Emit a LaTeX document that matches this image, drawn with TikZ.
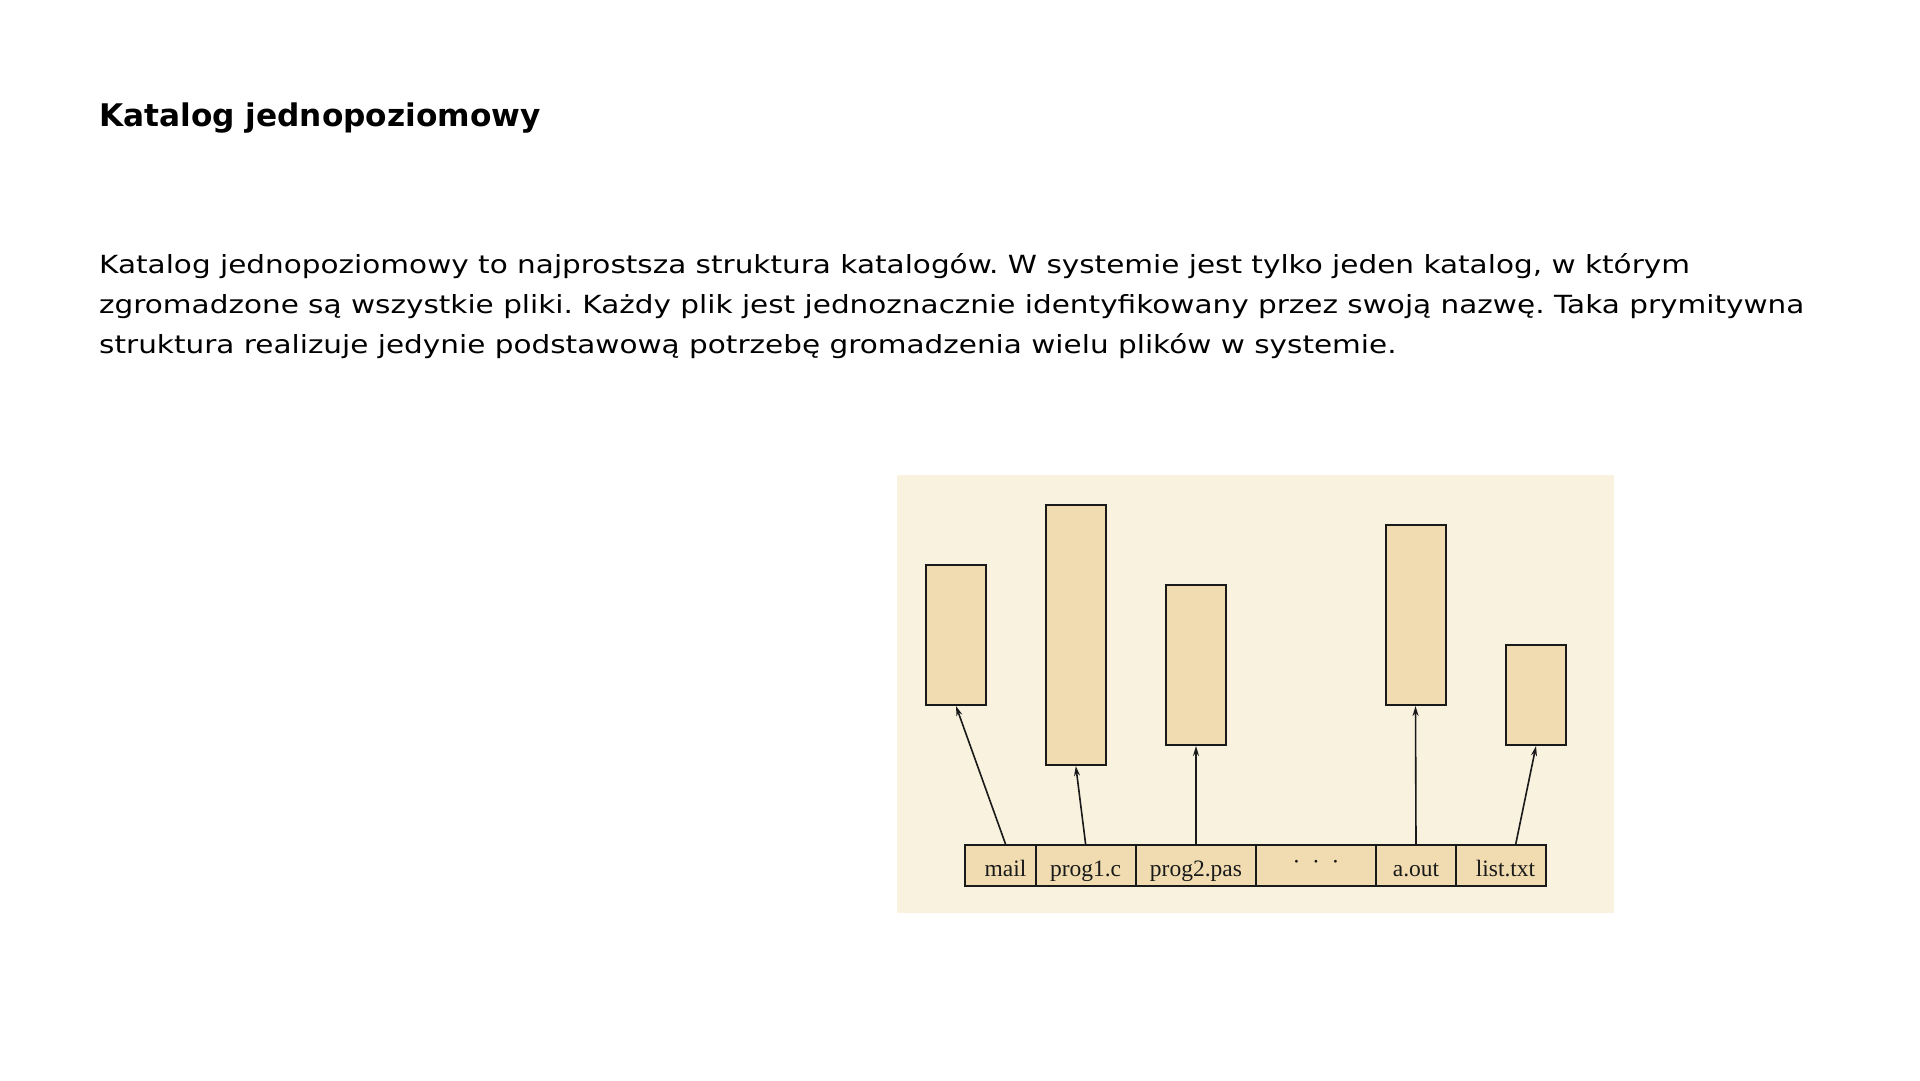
\documentclass[tikz,border=0pt]{standalone}
\usepackage{fontspec}
\setmainfont{DejaVu Sans}
\newfontfamily\labelfont{Liberation Serif}
\usetikzlibrary{arrows.meta}
\definecolor{panelbg}{HTML}{F8F2DF}
\definecolor{filefill}{HTML}{F0DCB0}
\definecolor{inkline}{HTML}{1A1A1A}
\newcommand{\widetext}[1]{\scalebox{1.18}[1]{#1}}
\tikzset{
  filebox/.style={draw=inkline, fill=filefill, line width=2pt, inner sep=0pt, minimum width=60pt},
  dircell/.style={draw=inkline, fill=filefill, line width=2pt, inner sep=0pt, minimum height=40.7pt},
  celltext/.style={inner sep=0pt, anchor=base, font=\labelfont\fontsize{23.5}{23.5}\selectfont, text=inkline},
  ptr/.style={draw=inkline, line width=1.6pt, -{Stealth[length=10pt,width=6pt]}},
  bodyline/.style={inner sep=0pt, anchor=base west, font=\fontsize{25}{40}\selectfont},
}
\begin{document}
\frenchspacing
\begin{tikzpicture}[x=1pt,y=-1pt]
\useasboundingbox (0,0) rectangle (1920,1080);
\fill[white] (0,0) rectangle (1920,1080);

% heading and paragraph
\node[inner sep=0pt, anchor=base west, font=\bfseries\fontsize{31.2}{35}\selectfont] (title) at (99,126.7) {Katalog jednopoziomowy};
\node[bodyline] (p1) at (99,273.3) {\widetext{Katalog jednopoziomowy to najprostsza struktura katalogów. W systemie jest tylko jeden katalog, w którym}};
\node[bodyline] (p2) at (99,313.3) {\widetext{zgromadzone są wszystkie pliki. Każdy plik jest jednoznacznie identyfikowany przez swoją nazwę. Taka prymitywna}};
\node[bodyline] (p3) at (99,353.3) {\widetext{struktura realizuje jedynie podstawową potrzebę gromadzenia wielu plików w systemie.}};

% panel
\fill[panelbg] (897,475) rectangle (1614,913);

% file blocks
\node[filebox, minimum height=140pt] (f1) at (956,635) {};
\node[filebox, minimum height=260pt] (f2) at (1075.8,635) {};
\node[filebox, minimum height=160pt] (f3) at (1196,665) {};
\node[filebox, minimum height=180pt] (f4) at (1415.5,615) {};
\node[filebox, minimum height=100pt] (f5) at (1536,695) {};

% directory entries
\node[dircell, minimum width=70.3pt]  (c1) at (1000.55,865.35) {};
\node[dircell, minimum width=100.1pt] (c2) at (1085.75,865.35) {};
\node[dircell, minimum width=120.1pt] (c3) at (1195.85,865.35) {};
\node[dircell, minimum width=120.1pt] (c4) at (1315.95,865.35) {};
\node[dircell, minimum width=79.6pt]  (c5) at (1415.8,865.35) {};
\node[dircell, minimum width=90.3pt]  (c6) at (1500.75,865.35) {};

\node[celltext] (l1) at (1005.5,876) {mail};
\node[celltext] (l2) at (1085.6,876) {prog1.c};
\node[celltext] (l3) at (1196,876) {prog2.pas};
\node[celltext] (l4) at (1316,869) {·\ \ ·\ \ ·};
\node[celltext] (l5) at (1416,876) {a.out};
\node[celltext] (l6) at (1505.5,876) {list.txt};

% pointers from entries to blocks
\draw[ptr] (l1 |- c1.north) -- (f1.south);
\draw[ptr] (l2 |- c2.north) -- (f2.south);
\draw[ptr] (l3 |- c3.north) -- (f3.south);
\draw[ptr] (l5 |- c5.north) -- (f4.south);
\draw[ptr] ([xshift=15pt]c6.north) -- (f5.south);
\end{tikzpicture}
\end{document}
